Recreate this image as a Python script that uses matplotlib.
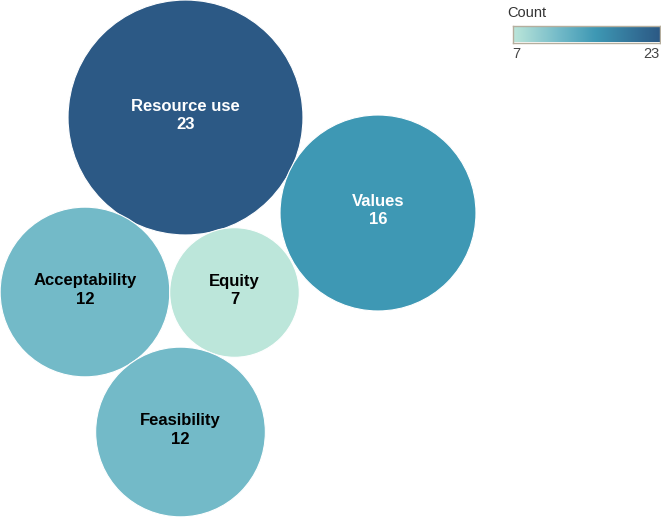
import numpy as np
import matplotlib
matplotlib.use('Agg')
import matplotlib.pyplot as plt
from matplotlib.patches import Circle
from matplotlib.colors import LinearSegmentedColormap, Normalize

# data
categories = ['Resource use', 'Values', 'Acceptability', 'Equity', 'Feasibility']
counts = [23, 16, 12, 7, 12]

# packed layout (pixel centres of each bubble)
centres = [(185.5, 117.5), (378, 213), (85, 292), (234.5, 292.5), (180.5, 432)]
px_per_unit = 600.0  # bubble area per count

cmap = LinearSegmentedColormap.from_list(
    'blueteal',
    [(0.0, '#BCE6DA'), (0.3125, '#73BAC8'), (0.5625, '#3E98B4'), (1.0, '#2C5985')])
norm = Normalize(vmin=min(counts), vmax=max(counts))

plt.rcParams['font.family'] = ['Liberation Sans', 'DejaVu Sans']
fig = plt.figure(figsize=(6.61, 5.18), dpi=100)
ax = fig.add_axes([0, 0, 1, 1])
ax.set_xlim(0, 661)
ax.set_ylim(518, 0)
ax.set_aspect('equal')
ax.axis('off')

for name, c, (cx, cy) in zip(categories, counts, centres):
    r = np.sqrt(c * px_per_unit)
    ax.add_patch(Circle((cx, cy), r, facecolor=cmap(norm(c)), edgecolor='white', lw=0.8))
    tc = 'white' if norm(c) > 0.45 else 'black'
    ax.text(cx, cy - 2, f'{name}\n{c}', ha='center', va='center', color=tc,
            fontsize=12, fontweight='bold', linespacing=1.25)

# legend
cax = fig.add_axes([512.5 / 661, 1 - 42.5 / 518, 147 / 661, 17 / 518])
cax.imshow(np.linspace(0, 1, 256)[None, :], cmap=cmap, aspect='auto')
cax.set_xticks([])
cax.set_yticks([])
for s in cax.spines.values():
    s.set_color('#B5AE9E')
    s.set_linewidth(1.0)
fig.text(507 / 661, 1 - 13 / 518, 'Count', ha='left', va='center', fontsize=10.5, color='#333333')
fig.text(512 / 661, 1 - 54 / 518, str(min(counts)), ha='left', va='center', fontsize=10.5, color='#444444')
fig.text(659 / 661, 1 - 54 / 518, str(max(counts)), ha='right', va='center', fontsize=10.5, color='#444444')

fig.savefig('out.png', dpi=100)
